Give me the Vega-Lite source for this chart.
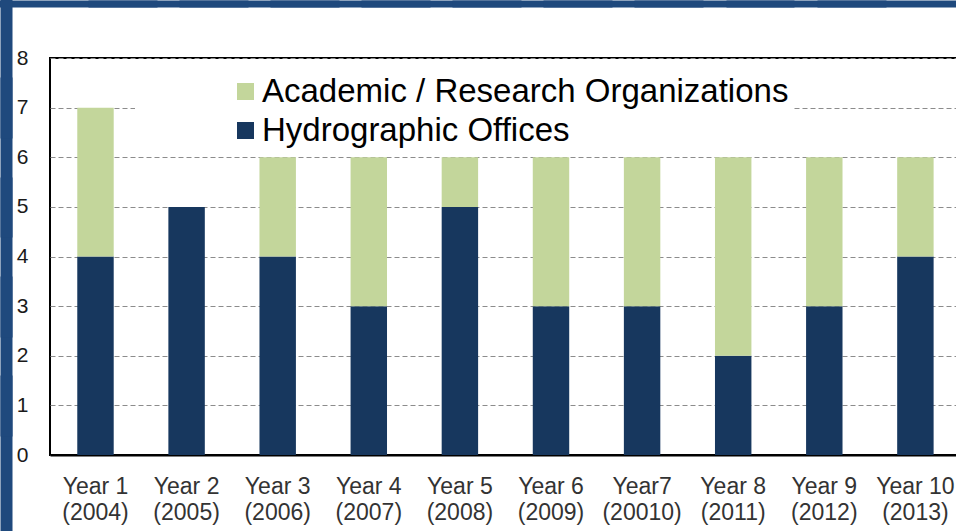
{
  "$schema": "https://vega.github.io/schema/vega-lite/v6.json",
  "autosize": {"type": "none"},
  "padding": {"left": 50, "top": 58, "right": 0, "bottom": 76},
  "width": 908,
  "height": 397,
  "background": "white",
  "config": {
    "font": "Liberation Sans",
    "view": {"stroke": "#000000", "strokeWidth": 2}
  },
  "data": {
    "values": [
      {"year": "Year 1|(2004)", "group": "Hydrographic Offices", "count": 4},
      {"year": "Year 1|(2004)", "group": "Academic / Research Organizations", "count": 3},
      {"year": "Year 2|(2005)", "group": "Hydrographic Offices", "count": 5},
      {"year": "Year 2|(2005)", "group": "Academic / Research Organizations", "count": 0},
      {"year": "Year 3|(2006)", "group": "Hydrographic Offices", "count": 4},
      {"year": "Year 3|(2006)", "group": "Academic / Research Organizations", "count": 2},
      {"year": "Year 4|(2007)", "group": "Hydrographic Offices", "count": 3},
      {"year": "Year 4|(2007)", "group": "Academic / Research Organizations", "count": 3},
      {"year": "Year 5|(2008)", "group": "Hydrographic Offices", "count": 5},
      {"year": "Year 5|(2008)", "group": "Academic / Research Organizations", "count": 1},
      {"year": "Year 6|(2009)", "group": "Hydrographic Offices", "count": 3},
      {"year": "Year 6|(2009)", "group": "Academic / Research Organizations", "count": 3},
      {"year": "Year7|(20010)", "group": "Hydrographic Offices", "count": 3},
      {"year": "Year7|(20010)", "group": "Academic / Research Organizations", "count": 3},
      {"year": "Year 8|(2011)", "group": "Hydrographic Offices", "count": 2},
      {"year": "Year 8|(2011)", "group": "Academic / Research Organizations", "count": 4},
      {"year": "Year 9|(2012)", "group": "Hydrographic Offices", "count": 3},
      {"year": "Year 9|(2012)", "group": "Academic / Research Organizations", "count": 3},
      {"year": "Year 10|(2013)", "group": "Hydrographic Offices", "count": 4},
      {"year": "Year 10|(2013)", "group": "Academic / Research Organizations", "count": 2}
    ]
  },
  "layer": [
    {
      "mark": {"type": "bar"},
      "encoding": {
        "x": {
          "field": "year",
          "type": "nominal",
          "sort": null,
          "scale": {"paddingInner": 0.6, "paddingOuter": 0.2835, "align": 0.528},
          "axis": {
            "orient": "bottom",
            "title": null,
            "labelExpr": "split(datum.value, '|')",
            "labelFontSize": 23,
            "labelColor": "#333333",
            "labelLineHeight": 26,
            "labelPadding": 20,
            "labelAngle": 0,
            "ticks": false,
            "grid": false,
            "domain": true,
            "domainColor": "#000000",
            "domainWidth": 2
          }
        },
        "y": {
          "field": "count",
          "type": "quantitative",
          "stack": "zero",
          "scale": {"domain": [0, 8], "nice": false},
          "axis": {
            "title": null,
            "values": [0, 1, 2, 3, 4, 5, 6, 7, 8],
            "labelFontSize": 21,
            "labelColor": "#1a1a1a",
            "labelPadding": 22,
            "ticks": false,
            "domain": false,
            "grid": true,
            "gridColor": "#8c8c8c",
            "gridDash": [5, 3],
            "gridWidth": 1
          }
        },
        "color": {
          "field": "group",
          "type": "nominal",
          "scale": {
            "domain": ["Academic / Research Organizations", "Hydrographic Offices"],
            "range": ["#C3D69B", "#17375E"]
          },
          "legend": {
            "orient": "none",
            "legendX": 85,
            "legendY": 13,
            "title": null,
            "fillColor": "white",
            "padding": 4,
            "symbolType": "square",
            "symbolSize": 289,
            "symbolStrokeWidth": 0,
            "symbolOffset": 90,
            "labelOffset": 0,
            "labelFontSize": 33,
            "labelColor": "#000000",
            "labelLimit": 0,
            "rowPadding": 5
          }
        },
        "order": {"field": "group", "sort": "descending"}
      }
    },
    {
      "mark": {"type": "point", "opacity": 0},
      "encoding": {
        "x": {
          "field": "year",
          "type": "nominal",
          "sort": null,
          "axis": {
            "orient": "top",
            "title": null,
            "offset": 51,
            "labels": false,
            "domain": false,
            "grid": false,
            "ticks": true,
            "bandPosition": 0,
            "tickSize": 7,
            "tickWidth": 160,
            "tickColor": "#1F497D"
          }
        },
        "y": {
          "field": "count",
          "type": "quantitative",
          "axis": {
            "orient": "left",
            "title": null,
            "offset": 38,
            "values": [0, 2, 4, 6, 8],
            "labels": false,
            "domain": false,
            "grid": false,
            "ticks": true,
            "tickSize": 12,
            "tickWidth": 160,
            "tickColor": "#1F497D"
          }
        }
      }
    }
  ],
  "resolve": {"axis": {"x": "independent", "y": "independent"}}
}
